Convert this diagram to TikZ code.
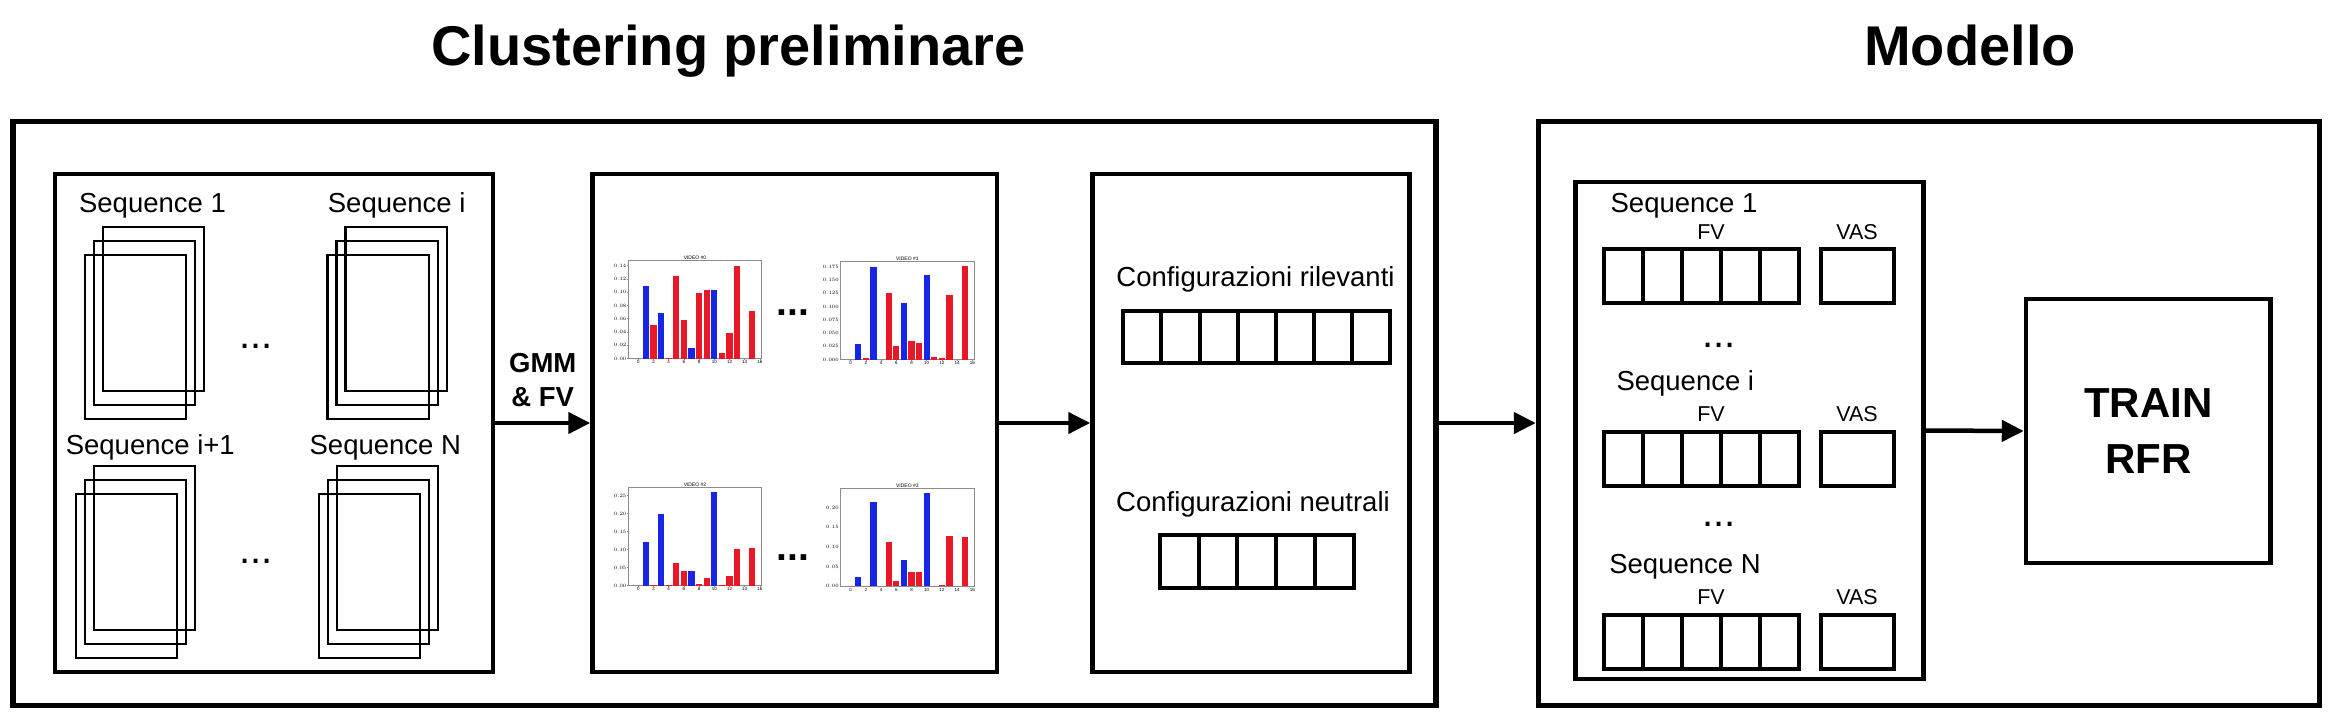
\documentclass[tikz,border=0pt]{standalone}
\usepackage{fontspec}
\setmainfont{Liberation Sans}
\usepackage{xcolor}
\usepackage{tikz}
\usetikzlibrary{arrows.meta,positioning}
\definecolor{barblue}{RGB}{22,38,228}
\definecolor{barred}{RGB}{234,24,38}
\tikzstyle{outerbox} = [rectangle, draw=black, line width=5.5pt, inner sep=0pt]
\tikzstyle{innerbox} = [rectangle, draw=black, line width=4.5pt, inner sep=0pt]
\tikzstyle{seqframe} = [rectangle, draw=black, line width=2.2pt, minimum width=101.5pt, minimum height=164pt, inner sep=0pt]
\tikzstyle{cell} = [rectangle, draw=black, line width=4pt, inner sep=0pt]
\tikzstyle{axisframe} = [draw=black!45, line width=0.6pt]
\tikzstyle{titletext} = [font=\bfseries\fontsize{56pt}{60pt}\selectfont, inner sep=0pt]
\tikzstyle{seqtext} = [font=\fontsize{27.5pt}{33pt}\selectfont, inner sep=0pt]
\tikzstyle{smalltext} = [font=\fontsize{21.5pt}{26pt}\selectfont, inner sep=0pt]
\tikzstyle{gmmtext} = [font=\bfseries\fontsize{27.5pt}{34.3pt}\selectfont, align=center, inner sep=0pt]
\tikzstyle{traintext} = [font=\bfseries\fontsize{42pt}{56.6pt}\selectfont, align=center]
\tikzstyle{dotstext} = [font=\fontsize{40pt}{40pt}\selectfont, inner sep=0pt]
\tikzstyle{charttext} = [font=\fontsize{4.5pt}{5pt}\selectfont, inner sep=0.6pt]
\tikzstyle{arrow} = [line width=4.5pt, -{Triangle[length=22pt,width=21pt]}]

\begin{document}
\begin{tikzpicture}[x=1pt, y=-1pt]
    \path[use as bounding box, fill=white] (0,0) rectangle (2332,718);
    % titles
    \node (tclust) [titletext, anchor=base] at (728.5,65) {Clustering preliminare};
    \node (tmodel) [titletext, anchor=base] at (1970,65) {Modello};
    % outer boxes
    \node (clust) [outerbox, minimum width=1423pt, minimum height=584pt] at (724.5,413.6) {};
    \node (model) [outerbox, minimum width=781pt, minimum height=584pt] at (1929,413.6) {};
    % inner boxes
    \node (seqs) [innerbox, minimum width=438pt, minimum height=498pt] at (274,423) {};
    \node (charts) [innerbox, minimum width=404.5pt, minimum height=498pt] at (794.75,423) {};
    \node (config) [innerbox, minimum width=317pt, minimum height=498pt] at (1251,423) {};
    \node (mseqs) [innerbox, minimum width=348pt, minimum height=497pt] at (1749.5,430.5) {};
    \node (train) [innerbox, traintext, minimum width=244.5pt, minimum height=264pt] at (2148.25,431) {TRAIN\\RFR};

    % sequences
    \foreach \n/\x/\y/\lx/\ly/\txt in {a/144.4/322.8/152.5/212/1, b/387.2/322.8/396.7/212/i,
        c/135.5/561.7/150.3/454.7/i+1, d/378.5/561.7/385.3/454.7/N} {
        \node (lab\n) [seqtext, anchor=base] at (\lx,\ly) {Sequence \txt};
        \node (\n3) [seqframe] at (\x+9,\y-14) {};
        \node (\n2) [seqframe] at (\x,\y) {};
        \node (\n1) [seqframe] at (\x-9,\y+14) {};
    }
    \node (dotsA) [dotstext] at (256.3,346) {...};
    \node (dotsB) [dotstext] at (256.3,561.3) {...};

    % histograms
    \foreach \k/\cx/\cy/\ymax/\tstep/\nt/\prec/\vals in {
        0/628.3/260.5/0.148/0.02/7/2/{0,0.110,0.051,0.069,0.001,0.125,0.058,0.016,0.099,0.103,0.104,0.008,0.039,0.140,0,0.072},
        1/840.7/261.5/0.185/0.025/7/3/{0,0.030,0.002,0.175,0,0.126,0.026,0.107,0.035,0.031,0.159,0.005,0.003,0.121,0,0.176},
        2/628.3/487.7/0.272/0.05/5/2/{0,0.122,0.002,0.198,0.001,0.062,0.042,0.041,0.004,0.022,0.259,0.001,0.027,0.101,0,0.106},
        3/840.7/488.2/0.249/0.05/4/2/{0,0.023,0,0.214,0,0.112,0.014,0.066,0.037,0.036,0.237,0,0.002,0.128,0,0.126}} {
        \draw[axisframe] (\cx,\cy) rectangle ++(133.3,98);
        \node (vtitle\k) [charttext, anchor=south, font=\fontsize{5pt}{6pt}\selectfont] at (\cx+66.7,\cy) {VIDEO \#\k};
        \foreach \v [count=\i from 0] in \vals {
            \pgfmathtruncatemacro\isblue{(\i==1)||(\i==3)||(\i==7)||(\i==10)}
            \ifnum\isblue=1 \def\bcol{barblue}\else\def\bcol{barred}\fi
            \pgfmathsetmacro\bh{\v/\ymax*98}
            \fill[\bcol] (\cx+10+7.6*\i-3.05,\cy+98) rectangle ++(6.1,-\bh);
        }
        \foreach \j in {0,...,\nt} {
            \pgfmathsetmacro\tv{\j*\tstep}
            \pgfmathsetmacro\ty{\cy+98-\tv/\ymax*98}
            \draw[axisframe] (\cx,\ty) -- ++(-1.2,0);
            \node (yt\k\j) [charttext, anchor=east] at (\cx-1.2,\ty) {\pgfmathprintnumber[fixed,fixed zerofill,precision=\prec]{\tv}};
        }
        \foreach \j in {0,...,8} {
            \pgfmathtruncatemacro\xl{2*\j}
            \draw[axisframe] (\cx+10+15.2*\j,\cy+98) -- ++(0,1.2);
            \node (xt\k\j) [charttext, anchor=north] at (\cx+10+15.2*\j,\cy+99.2) {\xl};
        }
    }
    \node (dotsC) [dotstext, font=\bfseries\fontsize{39pt}{39pt}\selectfont] at (793.2,312.7) {...};
    \node (dotsD) [dotstext, font=\bfseries\fontsize{39pt}{39pt}\selectfont] at (793.2,557.3) {...};

    % configurations
    \node (relev) [seqtext, anchor=base] at (1255.5,286.7) {Configurazioni rilevanti};
    \foreach \i in {1,...,7}
        \node (rel\i) [cell, minimum width=38.1pt, minimum height=52pt] at (1123.3+38.1*\i-19.05,336.7) {};
    \node (neutr) [seqtext, anchor=base] at (1253,511.7) {Configurazioni neutrali};
    \foreach \i in {1,...,5}
        \node (neu\i) [cell, minimum width=38.7pt, minimum height=53pt] at (1160+38.7*\i-19.35,561.7) {};

    % model input
    \foreach \r/\lx/\ly/\fy/\txt/\top in {1/1684/212.3/239.3/1/249.3, 2/1685.3/390/421.7/i/432.3, 3/1685/573/604.7/N/614.7} {
        \node (mlab\r) [seqtext, anchor=base] at (\lx,\ly) {Sequence \txt};
        \node (fvlab\r) [smalltext, anchor=base] at (1711,\fy) {FV};
        \node (vaslab\r) [smalltext, anchor=base] at (1857,\fy) {VAS};
        \foreach \i in {1,...,5}
            \node (fv\r\i) [cell, minimum width=38.9pt, minimum height=54pt] at (1604.3+38.9*\i-19.45,\top+27) {};
        \node (vas\r) [cell, minimum width=73pt, minimum height=54pt] at (1857.5,\top+27) {};
    }
    \node (dotsE) [dotstext] at (1719,345) {...};
    \node (dotsF) [dotstext] at (1719,524.7) {...};

    \draw [arrow] (seqs.east) -- node (gmm) [gmmtext, above=13.7pt] {GMM\\\& FV} (charts.west);
    \draw [arrow] (charts.east) -- (config.west);
    \draw [arrow] (clust.east |- config.east) -- (model.west |- config.east);
    \draw [arrow] (mseqs.east) -- (train.west);
\end{tikzpicture}
\end{document}
